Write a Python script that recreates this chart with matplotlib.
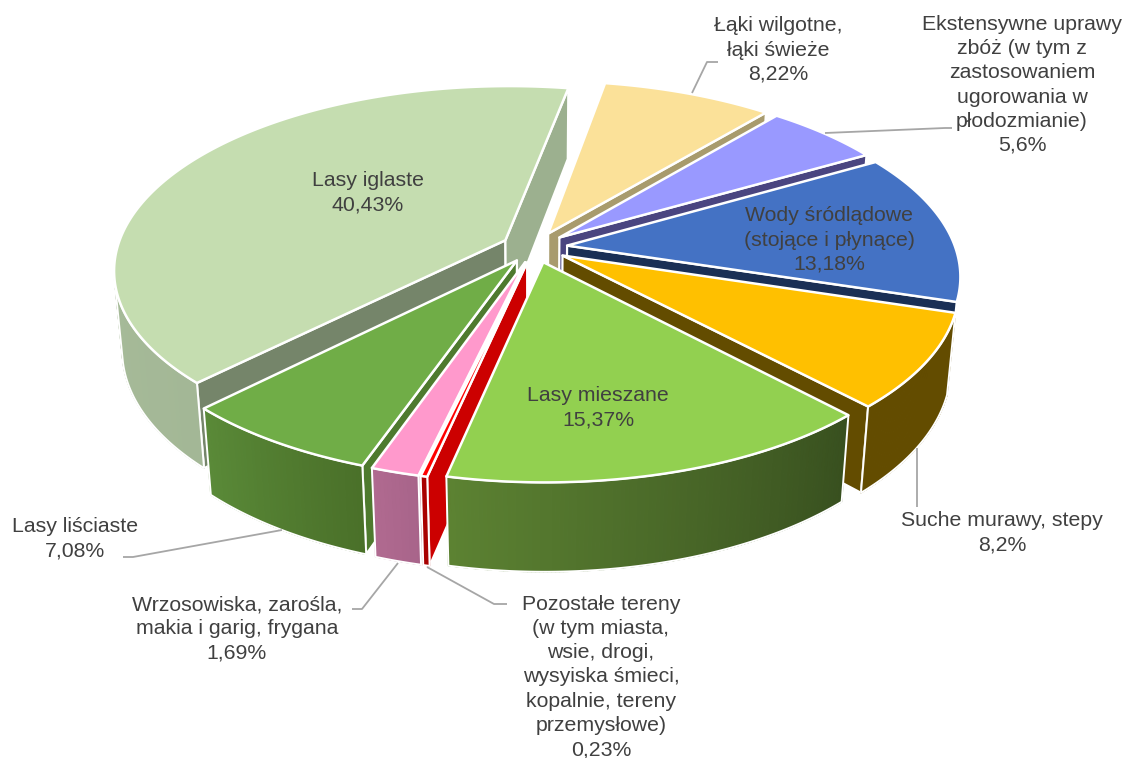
import numpy as np
import matplotlib
matplotlib.use('Agg')
import matplotlib.pyplot as plt
from matplotlib.colors import to_rgb
from matplotlib.patches import Polygon

plt.rcParams['font.family'] = ['Liberation Sans', 'DejaVu Sans']

# Slices, clockwise
values = [40.43, 8.22, 5.6, 13.18, 8.2, 15.37, 0.23, 1.69, 7.08]
top_colors = ['#c5ddb0', '#fbe199', '#9999ff', '#4472c4', '#ffc000', '#92d050', '#ff0000', '#ff99cc', '#70ad47']
wall_start = ['#a3b796', '#a89b6d', '#66669f', '#2e4c82', '#634c00', '#38501f', '#a80000', '#a8648a', '#4a7029']
wall_end = ['#b0c6a0', '#a89b6d', '#66669f', '#2e4c82', '#634c00', '#5c8232', '#a80000', '#b06a90', '#5a8a38']
cut_start = ['#75856a', '#a89b6d', '#4a4580', '#1a2f55', '#634c00', '#38501f', '#cc0000', '#ad678f', '#4e7a2e']
cut_end = ['#9cb08f', '#a89b6d', '#4a4580', '#1a2f55', '#634c00', '#5c8232', '#cc0000', '#4e7a2e', '#4e7a2e']

# Labels: text, centre x, centre y
labels = ['Lasy iglaste\n40,43%',
          'Łąki wilgotne,\nłąki świeże\n8,22%',
          'Ekstensywne uprawy\nzbóż (w tym z\nzastosowaniem\nugorowania w\npłodozmianie)\n5,6%',
          'Wody śródlądowe\n(stojące i płynące)\n13,18%',
          'Suche murawy, stepy\n8,2%',
          'Lasy mieszane\n15,37%',
          'Pozostałe tereny\n(w tym miasta,\nwsie, drogi,\nwysyiska śmieci,\nkopalnie, tereny\nprzemysłowe)\n0,23%',
          'Wrzosowiska, zarośla,\nmakia i garig, frygana\n1,69%',
          'Lasy liściaste\n7,08%']
label_x = [368, 778, 1022, 829, 1002, 598, 601, 237, 75]
label_y = [193, 50, 85, 240, 533, 408, 677, 629, 539]

leaders = [[(718, 62), (707, 62), (692, 93)],
           [(825, 133), (945, 128), (952, 128)],
           [(917, 448), (917, 507)],
           [(282, 530), (133, 557), (123, 557)],
           [(398, 563), (362, 609), (352, 609)],
           [(427, 567), (494, 604), (507, 604)]]

# Camera and pie shape, fitted against the reference corners
CX, CY = 534.44, 247.29
SCALE = 388.14
ELEV = 0.4835
DIST = 5.641
EXPLODE = 0.0848
START = -2.3627
DEPTH = 0.2342
CAM_Y = -DIST * np.cos(ELEV)
NO_WALL = [3]  # the Wody wall is hidden behind the next slice


def project(x, y, z):
    s, c = np.sin(ELEV), np.cos(ELEV)
    den = 1 + (y * c - z * s) / DIST
    return np.c_[CX + SCALE * x / den, CY - SCALE * (y * s + z * c) / den]


def faces_camera(x, y, nx, ny):
    return (0 - x) * nx + (CAM_Y - y) * ny > 0


def face(pts, color, edge='white', lw=1.6, z=1):
    ax.add_patch(Polygon(pts, closed=True, fc=color, ec=edge, lw=lw, joinstyle='round', zorder=z))


fig = plt.figure(figsize=(11.24, 7.58), dpi=100)
ax = fig.add_axes([0, 0, 1, 1])
ax.set_xlim(0, 1124)
ax.set_ylim(758, 0)
ax.axis('off')

spans = np.array(values) / sum(values) * 2 * np.pi
starts = START + np.concatenate([[0], np.cumsum(spans)[:-1]])
ends = starts + spans
mids = (starts + ends) / 2

# back slices first, the big front slice last
order = [1, 2, 0, 3, 4, 8, 7, 6, 5]
for layer, i in enumerate(order):
    ox, oy = EXPLODE * np.sin(mids[i]), EXPLODE * np.cos(mids[i])
    th = np.linspace(starts[i], ends[i], max(int(np.degrees(spans[i])) * 2, 2) + 1)
    px, py = ox + np.sin(th), oy + np.cos(th)
    top = project(px, py, 0 * th)
    bot = project(px, py, 0 * th - DEPTH)
    a_top = project(np.array([ox]), np.array([oy]), np.array([0.0]))
    a_bot = project(np.array([ox]), np.array([oy]), np.array([-DEPTH]))
    z = layer * 10 + 1
    # cut faces, only when turned to the camera
    if faces_camera(ox, oy, -np.cos(starts[i]), np.sin(starts[i])):
        face(np.vstack([a_top, top[:1], bot[:1], a_bot]), cut_start[i], z=z)
    if faces_camera(ox, oy, np.cos(ends[i]), -np.sin(ends[i])):
        face(np.vstack([a_top, top[-1:], bot[-1:], a_bot]), cut_end[i], z=z)
    # outer wall, shaded strip by strip
    mid_th = (th[:-1] + th[1:]) / 2
    seen = np.flatnonzero(faces_camera(ox + np.sin(mid_th), oy + np.cos(mid_th), np.sin(mid_th), np.cos(mid_th)))
    if len(seen) and i not in NO_WALL:
        c0, c1 = np.array(to_rgb(wall_start[i])), np.array(to_rgb(wall_end[i]))
        for k in seen:
            col = c0 + (c1 - c0) * k / max(len(th) - 2, 1)
            face(np.vstack([top[k:k + 2], bot[k:k + 2][::-1]]), col, edge=col, lw=0.9, z=z + 1)
        lo, hi = seen[0], seen[-1] + 2
        ax.add_patch(Polygon(np.vstack([top[lo:hi], bot[lo:hi][::-1]]), closed=True, fc='none', ec='white',
                             lw=1.4, zorder=z + 2))
    face(np.vstack([a_top, top]), top_colors[i], lw=1.8, z=z + 3)

for pts in leaders:
    xs, ys = zip(*pts)
    ax.plot(xs, ys, color='#a6a6a6', lw=1.3, solid_capstyle='butt', zorder=150)

for txt, x, y in zip(labels, label_x, label_y):
    ax.text(x, y, txt, ha='center', va='center', ma='center', fontsize=15.3, color='#404040',
            linespacing=1.345, zorder=200)

fig.savefig('out.png', dpi=100)
